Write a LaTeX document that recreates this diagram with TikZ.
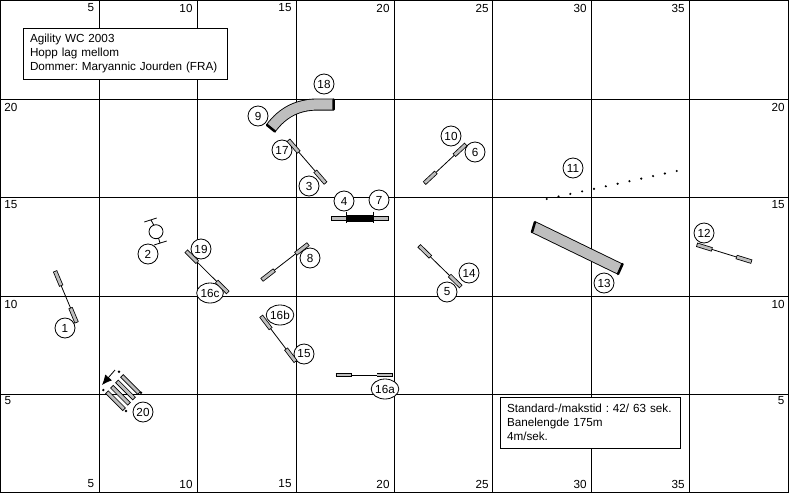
\documentclass[tikz,border=0pt]{standalone}
\usepackage{fontspec}
\setmainfont{Liberation Sans}
\usetikzlibrary{calc,arrows.meta,shapes.geometric}
\newcommand{\smalltxt}{\fontsize{11.7}{14}\selectfont\frenchspacing}
\definecolor{barfill}{RGB}{190,190,190}
\tikzset{
  gridline/.style={black,line width=1pt},
  numlabel/.style={circle,draw,line width=.8pt,fill=white,inner sep=0pt,minimum size=20pt,font=\smalltxt},
  oddlabel/.style={ellipse,draw,line width=.8pt,fill=white,inner sep=0pt,minimum width=25pt,minimum height=20pt,font=\smalltxt},
  gridnum/.style={inner sep=0pt,font=\smalltxt},
  infobox/.style={draw,fill=white,line width=1pt,anchor=north west,align=left,font=\smalltxt,inner xsep=7pt,inner ysep=4pt,minimum height=51pt},
  thin line/.style={line width=.8pt},
  bar/.style={draw=black,fill=barfill,line width=.8pt},
}
\newcommand{\jump}[4]{
  \coordinate (p) at (#1,#2);
  \coordinate (q) at (#3,#4);
  \draw[thin line] (p) -- (q);
  \draw[line width=4.4pt] (p) -- ($(p)!16.2pt!(q)$) (q) -- ($(q)!16.2pt!(p)$);
  \draw[line width=2.8pt,barfill] ($(p)!.8pt!(q)$) -- ($(p)!15.4pt!(q)$) ($(q)!.8pt!(p)$) -- ($(q)!15.4pt!(p)$);
}
\begin{document}
\begin{tikzpicture}[x=1pt,y=-1pt]
  \useasboundingbox (0,0) rectangle (789,493);
  \draw[gridline] (.5,.5) rectangle (788,492.5);
  \foreach \x in {99,197.5,296,394.5,492.5,591,689.5} {
    \draw[gridline] (\x,0) -- (\x,493);
  }
  \foreach \y in {99,197.5,296,394.5} {
    \draw[gridline] (0,\y) -- (789,\y);
  }
  \foreach \x/\t in {91/5,186/10,285/15,383/20,482/25,580/30,678/35} {
    \node[gridnum] (top\t) at (\x,8) {\t};
    \node[gridnum] (bot\t) at (\x,484) {\t};
  }
  \foreach \y/\t in {107/20,205/15,304/10} {
    \node[gridnum] (left\t) at (11,\y) {\t};
    \node[gridnum] (right\t) at (778,\y) {\t};
  }
  \node[gridnum] (left5) at (8,401) {5};
  \node[gridnum] (right5) at (781,401) {5};

  \foreach \x/\y/\t in {65/328/1,148/254/2,309/186/3,344/201/4,447/292/5,475/152/6,379/200/7,
      310/258/8,258/116/9,451/136/10,573/168/11,704/233/12,604/283/13,469/273/14,304/354/15,
      282/150/17,324/84/18,201/249/19,143/412/20} {
    \node[numlabel] (n\t) at (\x,\y) {\t};
  }
  \foreach \x/\y/\t in {385/389/16a,280/315/16b,210/293/16c} {
    \node[oddlabel] (n\t) at (\x,\y) {\t};
  }

  \jump{55}{271}{76.7}{322.7}
  \jump{186}{251}{228}{292.7}
  \jump{288.3}{140}{325.7}{183.3}
  \jump{466}{144.3}{424.3}{183.3}
  \jump{308.3}{244}{261.7}{280}
  \jump{419}{245.7}{461}{286.7}
  \jump{261}{316}{295.7}{361.7}
  \jump{335.7}{375}{392.7}{375}
  \jump{696.7}{244.7}{751.7}{261.7}

  \draw[thin line] (156,231.7) circle (7);
  \draw[thin line] (144.3,222) -- (156.7,218) (151,220) -- (154,225.5);
  \draw[thin line] (154,245) -- (166.7,241) (160,243) -- (158.5,238);

  \draw[bar] (331.7,216.7) rectangle (388.3,220.7);
  \fill (346.7,215.3) rectangle (373.3,222);
  \draw[thin line] (346.7,211.7) -- (346.7,223.3) (373.3,211.7) -- (373.3,223.3);

  \draw[line width=12pt] (333,104.5) -- (318,104.5) .. controls (298,104.5) and (283,112) .. (271,128);
  \draw[line width=10.2pt,barfill] (333,104.5) -- (318,104.5) .. controls (298,104.5) and (283,112) .. (271,128);
  \draw[line width=2.5pt,line cap=round] (333.5,99.5) -- (333.5,109.5) (267,125) -- (275,131.5);

  \draw[line width=12pt] (533.5,227) -- (620,269);
  \draw[line width=10.2pt,barfill] (533.5,227) -- (620,269);
  \draw[line width=2.5pt,line cap=round] (535,222) -- (532,232) (622.5,264) -- (618,274);

  \foreach \i in {0,...,11} {
    \fill ($(546.7,199)!\i/11!(676.7,171)$) circle (1.2);
  }

  \foreach \i in {0,1,2,3} {
    \coordinate (c) at ($(130.5,384.5)+\i*(-5,5.4)$);
    \draw[line width=4.4pt] ($(c)+(-8.8,-8.8)$) -- ($(c)+(8.8,8.8)$);
    \draw[line width=2.8pt,barfill] ($(c)+(-8.2,-8.2)$) -- ($(c)+(8.2,8.2)$);
  }
  \foreach \x/\y in {119/371.7,141/392.7,103.3/390,126/411} {
    \fill (\x,\y) circle (1.3);
  }
  \draw[thin line,-{Latex[length=10pt,width=9pt]}] (115,370) -- (102,385);

  \node[infobox,text width=190pt] (title) at (22.5,27.5)
    {Agility WC 2003\\Hopp lag mellom\\Dommer: Maryannic Jourden (FRA)};
  \node[infobox,text width=166pt] (stats) at (499.5,396.5)
    {Standard-/makstid : 42/ 63 sek.\\Banelengde 175m\\4m/sek.};
\end{tikzpicture}
\end{document}
